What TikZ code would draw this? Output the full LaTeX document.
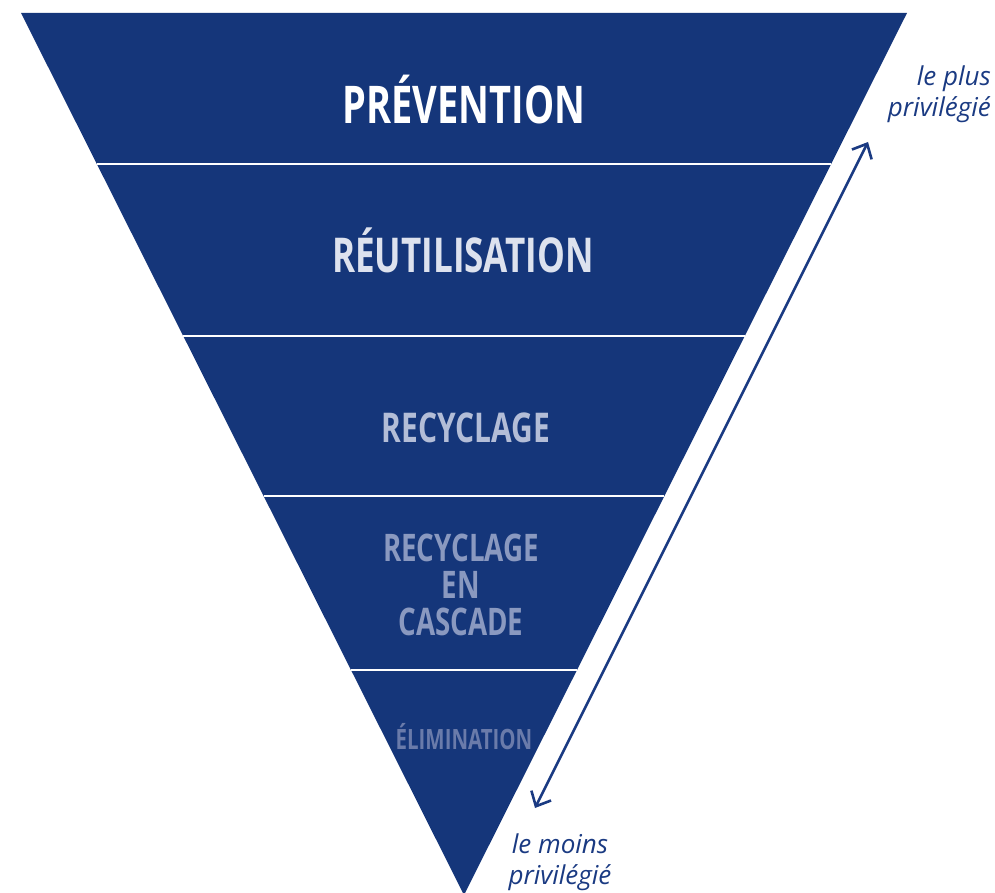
\documentclass[tikz,border=0pt]{standalone}
\usepackage{fontspec}
\setmainfont{Open Sans}
\newfontfamily\stufenschrift[FakeStretch=0.73]{Open Sans}
\usetikzlibrary{arrows.meta}
\definecolor{pyramidblau}{HTML}{15367A}
\definecolor{schriftblau}{HTML}{1A3A82}
\definecolor{stufeA}{HTML}{FFFFFF}
\definecolor{stufeB}{HTML}{DDE2EE}
\definecolor{stufeC}{HTML}{B3BDD7}
\definecolor{stufeD}{HTML}{8A99C0}
\definecolor{stufeE}{HTML}{6A7BAA}
\tikzset{
  stufe/.style={font=\stufenschrift\bfseries, align=center, inner sep=0pt},
  trenner/.style={white, line width=2pt},
  hinweis/.style={font=\itshape, text=schriftblau, inner sep=0pt},
}
\begin{document}
\begin{tikzpicture}[x=1pt,y=-1pt,>={Straight Barb[length=12pt,width=22pt]}]
\useasboundingbox (0,0) rectangle (995,893);
% Dreieck
\fill[pyramidblau](21,13) -- (907,13) -- (464,895) -- cycle;
% Trennlinien
\draw[trenner](96.8,164) -- (831.2,164);
\draw[trenner](183.2,336) -- (744.8,336);
\draw[trenner](263.6,496) -- (664.4,496);
\draw[trenner](351,670) -- (577,670);
% Stufen
\node[stufe,text=stufeA,font=\stufenschrift\bfseries\fontsize{52}{52}\selectfont]at(464,100)(praevention){PRÉVENTION};
\node[stufe,text=stufeB,font=\stufenschrift\bfseries\fontsize{48}{48}\selectfont]at(463,250)(wiederverwendung){RÉUTILISATION};
\node[stufe,text=stufeC,font=\stufenschrift\bfseries\fontsize{41}{41}\selectfont]at(466,428)(recycling){RECYCLAGE};
\node[stufe,text=stufeD,font=\stufenschrift\bfseries\fontsize{38}{37}\selectfont]at(461,585)(kaskade){RECYCLAGE\\EN\\CASCADE};
\node[stufe,text=stufeE,font=\stufenschrift\bfseries\fontsize{28}{28}\selectfont]at(464,737)(beseitigung){ÉLIMINATION};
% Pfeil
\coordinate (oben) at (868,142);
\coordinate (unten) at (535,808);
\draw[schriftblau,line width=2.6pt,<->](unten) -- (oben);
% Beschriftung
\node[hinweis,align=right,anchor=east,font=\itshape\fontsize{26}{31}\selectfont]at(991,94)(plus){le plus\\privilégié};
\node[hinweis,align=center,font=\itshape\fontsize{26}{31}\selectfont]at(560,862)(moins){le moins\\privilégié};
\end{tikzpicture}
\end{document}
